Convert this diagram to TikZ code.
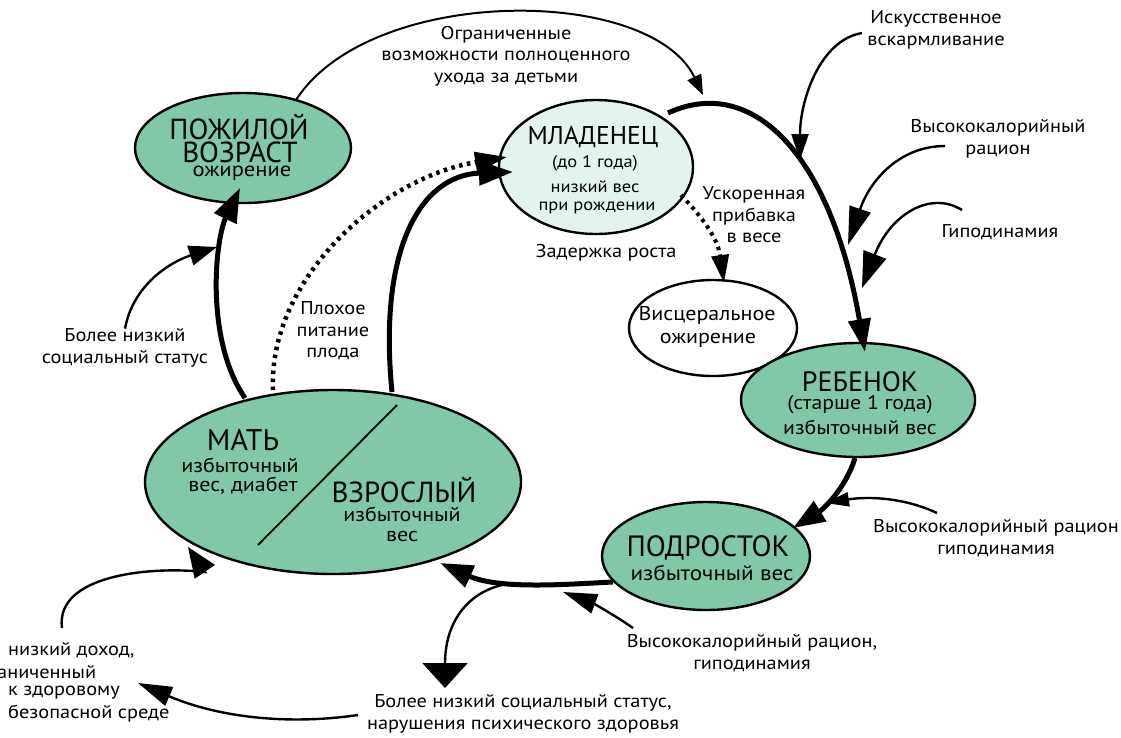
\documentclass[tikz,border=0pt]{standalone}
\usepackage{fontspec}
\setmainfont{PT Sans}[FakeStretch=1.1]
\newfontfamily\ttlfont{PT Sans}
\usetikzlibrary{arrows.meta,shapes.geometric,calc}
\definecolor{mint}{RGB}{128,200,168}
\definecolor{pale}{RGB}{228,244,236}
\tikzset{
  ell/.style={ellipse, draw, line width=2.4pt, inner sep=0pt},
  hd/.style 2 args={-{Triangle[length=#1,width=#2]}},
  bigarrow/.style={line width=5pt},
  thinarrow/.style={line width=2.4pt},
  dotarrow/.style={line width=4.5pt, dash pattern=on 3.5pt off 4.5pt},
  txt/.style={font=\fontsize{18.5}{21.5}\selectfont, align=center, inner sep=0pt},
  sub/.style={font=\fontsize{#1}{#1}\selectfont, inner sep=0pt},
  sub/.default=20,
  ttl/.style={font=\ttlfont\fontsize{#1}{#1}\selectfont, inner sep=0pt},
  ttl/.default=29,
}
\begin{document}
\begin{tikzpicture}[x=1pt,y=-1pt]
\useasboundingbox (0,0) rectangle (1121,737);

% ellipses
\node[ell, fill=mint, minimum width=216pt, minimum height=110pt] (eld) at (243,148) {};
\node[ell, fill=pale, minimum width=194pt, minimum height=134pt] (inf) at (596,167) {};
\node[ell, fill=white, minimum width=168pt, minimum height=96pt] (visc) at (713,328) {};
\node[ell, fill=mint, minimum width=234pt, minimum height=114pt] (child) at (858,400) {};
\node[ell, fill=mint, minimum width=208pt, minimum height=108pt] (teen) at (706,556) {};
\node[ell, fill=mint, minimum width=376pt, minimum height=184pt] (adult) at (333,482) {};
\coordinate (d1) at (258,545);
\coordinate (d2) at (397,405);
\draw[line width=1.8pt] (d1) -- (d2);

% texts in nodes
\node[ttl=29] (e1) at (239,127) {ПОЖИЛОЙ};
\node[ttl=29] (e2) at (240,152) {ВОЗРАСТ};
\node[sub=20.5] (e3) at (242,173) {ожирение};
\node[ttl=25.7] (i1) at (593,137) {МЛАДЕНЕЦ};
\node[sub=16.8] (i2) at (595,163) {(до 1 года)};
\node[sub=16.8] (i3) at (595,187) {низкий вес};
\node[sub=16.8] (i4) at (597,208) {при рождении};
\node[sub=20] (v1) at (707,315) {Висцеральное};
\node[sub=20] (v2) at (708,340) {ожирение};
\node[ttl=28] (c1) at (860,382) {РЕБЕНОК};
\node[sub=19.8] (c2) at (860,405) {(старше 1 года)};
\node[sub=19.8] (c3) at (860,427) {избыточный вес};
\node[ttl=29.3] (t1) at (708,548) {ПОДРОСТОК};
\node[sub=21] (t2) at (712,573) {избыточный вес};
\node[ttl=29.8] (m1) at (243,440) {МАТЬ};
\node[sub=20] (m2) at (240,465) {избыточный};
\node[sub=20] (m3) at (243,486) {вес, диабет};
\node[ttl=29] (a1) at (404,490) {ВЗРОСЛЫЙ};
\node[sub=20] (a2) at (402,514) {избыточный};
\node[sub=20] (a3) at (402,536) {вес};

% labels
\node[txt] (lblE) at (506,56) {Ограниченные\\возможности полноценного\\ухода за детьми};
\node[txt] (lblB) at (125,348) {Более низкий\\социальный статус};
\node[txt] (lblF) at (333,331) {Плохое\\питание\\плода};
\node[txt] (lblG) at (754,215) {Ускоренная\\прибавка\\в весе};
\node[txt] (lblZ) at (606,253) {Задержка роста};
\node[txt] (lblH) at (936,30) {Искусственное\\вскармливание};
\node[txt] (lblI) at (998,139) {Высококалорийный\\рацион};
\node[txt] (lblJ) at (1000,232) {Гиподинамия};
\node[txt] (lblL) at (996,538) {Высококалорийный рацион\\гиподинамия};
\node[txt] (lblN) at (752,653) {Высококалорийный рацион,\\гиподинамия};
\node[txt] (lblP) at (523,714) {Более низкий социальный статус,\\нарушения психического здоровья};
\node[txt, anchor=west] (q1) at (8,650) {низкий доход,};
\node[txt, anchor=west] (q2) at (-3,672) {аниченный};
\node[txt, anchor=west] (q3) at (8,693) {к здоровому};
\node[txt, anchor=west] (q4) at (8,714) {безопасной среде};

% free coordinates
\coordinate (eB) at (217,247);
\coordinate (sH) at (862,33);
\coordinate (eH) at (800,160);
\coordinate (sI) at (945,146);
\coordinate (eI) at (848,245);
\coordinate (sJ) at (962,210);
\coordinate (eJ) at (862,288);
\coordinate (sL) at (937,513);
\coordinate (eL) at (825,503);
\coordinate (sN) at (633,628);
\coordinate (eN) at (563,592);
\coordinate (sO) at (513,583);
\coordinate (eO) at (445,688);
\coordinate (sP) at (358,715);
\coordinate (eP) at (138,683);
\coordinate (sQ) at (62,628);
\coordinate (bQ) at (205,572);

% main cycle
\draw[bigarrow, hd={34pt}{24pt}] ($(adult)+(-88,-84)$) .. controls (205,340) and (215,240) .. ($(eld)+(-3,40)$);
\draw[dotarrow, hd={32pt}{20pt}] ($(adult)+(-60,-92)$) .. controls (268,280) and (380,178) .. ($(inf)+(-89,-10)$);
\draw[bigarrow, hd={34pt}{24pt}] ($(adult)+(59,-90)$) .. controls (378,250) and (420,175) .. ($(inf)+(-83,5)$);
\draw[thinarrow, line width=2pt, hd={20pt}{15pt}] ($(eld)+(53,-48)$) .. controls (370,-15) and (650,-15) .. ($(inf)+(107,-72)$);
\draw[bigarrow, hd={33pt}{22pt}] ($(inf)+(72,-54)$) .. controls (750,75) and (830,150) .. ($(child)+(7,-48)$);
\draw[dotarrow, line width=4pt, hd={28pt}{17pt}] ($(inf)+(85,28)$) .. controls (705,220) and (718,240) .. ($(visc)+(11,-45)$);
\draw[bigarrow, hd={32pt}{23pt}] ($(child)+(-3,58)$) .. controls (845,490) and (822,510) .. ($(teen)+(87,-28)$);
\draw[bigarrow, hd={33pt}{23pt}] ($(teen)+(-93,26)$) .. controls (570,584) and (500,590) .. ($(adult)+(107,81)$);

% side arrows
\draw[thinarrow, hd={28pt}{20pt}] (lblB.north) .. controls (133,285) and (170,262) .. (eB);
\draw[thinarrow, hd={26pt}{17pt}] (sH) .. controls (820,40) and (800,100) .. (eH);
\draw[thinarrow, hd={38pt}{22pt}] (sI) .. controls (900,146) and (870,180) .. (eI);
\draw[thinarrow, hd={36pt}{24pt}] (sJ) .. controls (930,190) and (890,215) .. (eJ);
\draw[thinarrow, hd={24pt}{14pt}] (sL) .. controls (905,498) and (870,496) .. (eL);
\draw[thinarrow, hd={34pt}{20pt}] (sN) .. controls (610,612) and (590,602) .. (eN);
\draw[thinarrow, hd={25pt}{45pt}] (sO) .. controls (470,588) and (445,620) .. (eO);
\draw[thinarrow, hd={34pt}{20pt}] (sP) .. controls (290,725) and (220,718) .. (eP);
\draw[thinarrow, hd={30pt}{24pt}] (sQ) .. controls (55,575) and (150,566) .. (bQ) -- ($(adult)+(-145,65)$);
\end{tikzpicture}
\end{document}
